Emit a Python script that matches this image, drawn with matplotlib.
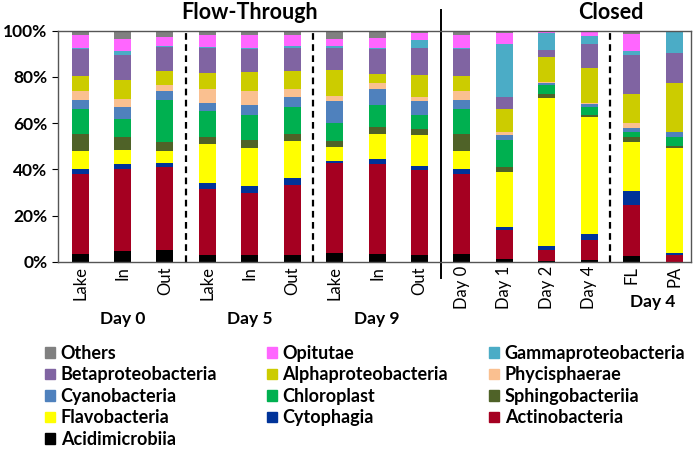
import matplotlib
matplotlib.use("Agg")
import matplotlib.pyplot as plt
from matplotlib.patches import Patch
import numpy as np

plt.rcParams["font.family"] = ["Lato", "DejaVu Sans"]

# Bar labels (x axis)
labels = ["Lake", "In", "Out", "Lake", "In", "Out", "Lake", "In", "Out",
          "Day 0", "Day 1", "Day 2", "Day 4", "FL", "PA"]

# Cumulative tops (%), bottom layer first
taxa = ["Acidimicrobiia", "Actinobacteria", "Cytophagia", "Flavobacteria",
        "Sphingobacteriia", "Chloroplast", "Cyanobacteria", "Phycisphaerae",
        "Alphaproteobacteria", "Betaproteobacteria", "Gammaproteobacteria",
        "Opitutae", "Others"]
colors = ["#000000", "#a50021", "#003399", "#ffff00", "#4f6228", "#00b050",
          "#4f81bd", "#fac090", "#cccc00", "#8064a2", "#4bacc6", "#ff66ff",
          "#808080"]

cum_lake0 = [3.5, 38.1, 40.4, 47.8, 55.3, 66.0, 70.1, 74.0, 80.4, 92.1, 92.7, 98.0, 100]
cum_in0 = [4.9, 40.0, 42.4, 48.5, 54.0, 61.9, 67.2, 70.6, 78.6, 89.5, 91.2, 96.4, 100]
cum_out0 = [5.3, 41.2, 42.6, 48.1, 51.7, 70.1, 74.0, 76.5, 82.6, 92.8, 93.4, 97.1, 100]
cum_lake5 = [3.2, 31.4, 34.0, 50.9, 54.2, 65.2, 68.8, 75.0, 81.7, 92.4, 92.9, 98.1, 100]
cum_in5 = [2.9, 29.8, 32.7, 49.1, 52.9, 63.6, 67.8, 74.0, 82.3, 92.1, 92.5, 98.1, 100]
cum_out5 = [3.0, 33.1, 36.3, 52.2, 55.3, 66.9, 71.4, 74.8, 82.7, 92.7, 93.2, 98.1, 100]
cum_lake9 = [3.9, 42.7, 43.6, 49.6, 52.1, 59.9, 69.8, 71.8, 83.0, 92.7, 93.2, 96.4, 100]
cum_in9 = [3.6, 42.4, 44.7, 55.5, 58.4, 67.9, 74.7, 77.6, 81.4, 92.1, 92.7, 96.7, 100]
cum_out9 = [3.2, 39.7, 41.6, 55.0, 57.7, 63.5, 69.8, 71.4, 80.9, 92.7, 96.1, 99.1, 100]
cum_c0 = [3.5, 38.1, 40.4, 47.8, 55.3, 66.0, 70.1, 74.0, 80.4, 92.1, 92.7, 98.0, 100]
cum_c1 = [1.3, 14.0, 15.0, 38.8, 40.9, 52.8, 54.7, 56.3, 66.0, 71.4, 94.1, 98.8, 100]
cum_c2 = [0.3, 5.3, 6.8, 71.1, 72.8, 76.5, 77.3, 78.0, 88.5, 91.8, 98.8, 99.9, 100]
cum_c4 = [0.9, 9.4, 12.1, 62.7, 63.7, 67.2, 68.3, 68.8, 84.0, 94.1, 97.8, 99.6, 100]
cum_fl = [2.6, 24.7, 30.6, 51.7, 54.0, 56.0, 57.8, 59.9, 72.8, 89.5, 91.4, 98.6, 100]
cum_pa = [0.0, 2.9, 3.9, 49.5, 50.2, 54.1, 56.3, 56.4, 77.3, 90.5, 100, 100, 100]

cum = np.array([cum_lake0, cum_in0, cum_out0, cum_lake5, cum_in5, cum_out5,
                cum_lake9, cum_in9, cum_out9, cum_c0, cum_c1, cum_c2, cum_c4,
                cum_fl, cum_pa]).T
vals = np.diff(np.vstack([np.zeros(cum.shape[1]), cum]), axis=0)

group_labels = ["Day 0", "Day 5", "Day 9"]

fig = plt.figure(figsize=(6.97, 4.49), dpi=100)
ax = fig.add_axes([0.0832, 0.4165, 0.9082, 0.5151])

x = np.arange(len(labels))
bottom = np.zeros(len(labels))
handles = {}
for name, col, v in zip(taxa, colors, vals):
    ax.bar(x, v, 0.4, bottom=bottom, color=col, label=name)
    handles[name] = Patch(color=col)
    bottom += v

ax.set_xlim(-0.52, 14.4)
ax.set_ylim(0, 100)
ax.set_yticks(range(0, 101, 20))
ax.set_yticklabels([f"{t}%" for t in range(0, 101, 20)], fontsize=12.5, fontweight="bold")
ax.set_xticks(x)
ax.set_xticklabels(labels, rotation=90, fontsize=12)
ax.tick_params(axis="x", length=0, pad=3)
ax.tick_params(axis="y", length=4, direction="out")
for s in ax.spines.values():
    s.set_linewidth(1.0)
    s.set_color("#555555")

for xs in [2.5, 5.5, 12.5]:
    ax.axvline(xs, color="black", ls=(0, (3, 2)), lw=1.6)
ax.plot([8.5, 8.5], [-7, 109], color="black", lw=1.4, clip_on=False)

ax.text(4, 108, "Flow-Through", ha="center", va="center", fontsize=15.5, fontweight="bold")
ax.text(12.5, 108, "Closed", ha="center", va="center", fontsize=15.5, fontweight="bold")

for i, g in enumerate(group_labels):
    ax.text(3 * i + 1, -24.5, g, ha="center", va="center", fontsize=12.5, fontweight="bold",
            clip_on=False)
ax.text(13.5, -17.5, "Day 4", ha="center", va="center", fontsize=12.5, fontweight="bold",
        clip_on=False)

# legend, laid out as three columns
columns = [["Others", "Betaproteobacteria", "Cyanobacteria", "Flavobacteria", "Acidimicrobiia"],
           ["Opitutae", "Alphaproteobacteria", "Chloroplast", "Cytophagia"],
           ["Gammaproteobacteria", "Phycisphaerae", "Sphingobacteriia", "Actinobacteria"]]
col_x = [0.065, 0.383, 0.702]
for cx, names in zip(col_x, columns):
    leg = fig.legend([handles[n] for n in names], names, loc="upper left",
                     bbox_to_anchor=(cx, 0.232), frameon=False,
                     prop={"weight": "bold", "size": 13},
                     handlelength=0.55, handleheight=0.55, handletextpad=0.3,
                     labelspacing=0.25, borderaxespad=0, borderpad=0)

fig.savefig("out.png", dpi=100)
